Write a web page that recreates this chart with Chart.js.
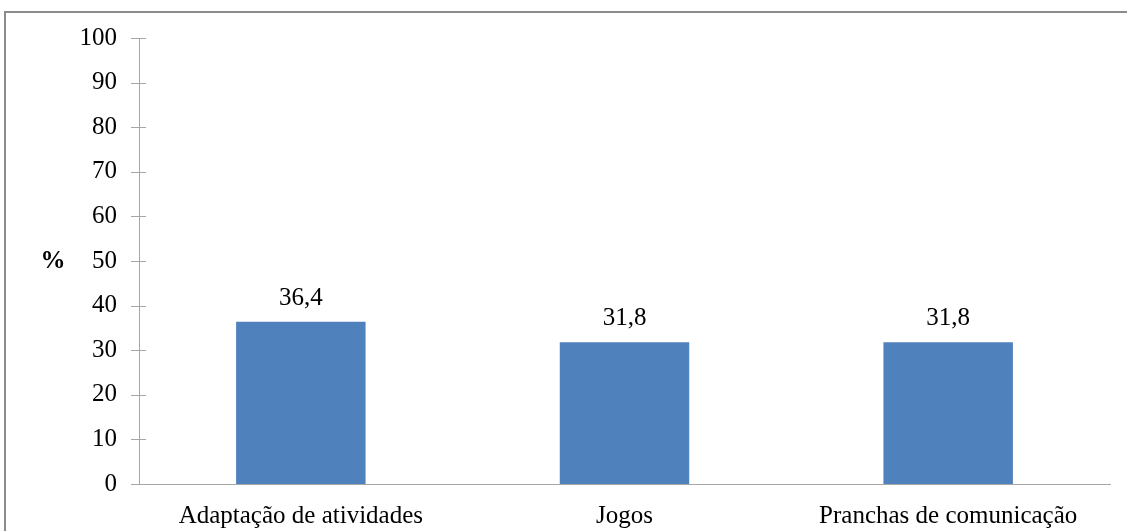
<!DOCTYPE html>
<html>
<head>
<meta charset="utf-8">
<script src="https://cdn.jsdelivr.net/npm/chart.js@4.4.0/dist/chart.umd.min.js"></script>
<style>
  body { margin: 0; background: #fff; overflow: hidden; }
  #frame { position: absolute; left: 4px; top: 11px; width: 1200px; height: 600px; border: 2px solid #8c8c8c; }
  #wrap { position: absolute; left: 0; top: 0; width: 1127px; height: 531px; }
</style>
</head>
<body>
<div id="frame"></div>
<div id="wrap"><canvas id="chart"></canvas></div>
<script>
// chart data
const categories = ['Adaptação de atividades', 'Jogos', 'Pranchas de comunicação'];
const percentValues = [36.4, 31.8, 31.8];
const yTicks = [0, 10, 20, 30, 40, 50, 60, 70, 80, 90, 100];

const axisColor = '#a6a6a6';
const fontFamily = '"Liberation Serif", "Times New Roman", serif';
const fontSize = 25;

// tick marks crossing the y axis, value labels, and the % label
const extras = {
    id: 'extras',
    afterDraw(chart) {
        const ctx = chart.ctx;
        const yScale = chart.scales.y;
        const area = chart.chartArea;
        ctx.save();
        ctx.strokeStyle = axisColor;
        ctx.lineWidth = 1;
        yTicks.forEach(v => {
            const y = Math.round(yScale.getPixelForValue(v)) + 0.5;
            ctx.beginPath();
            ctx.moveTo(area.left - 8, y);
            ctx.lineTo(area.left + 7, y);
            ctx.stroke();
        });

        ctx.fillStyle = '#000';
        ctx.font = fontSize + 'px ' + fontFamily;
        ctx.textAlign = 'center';
        ctx.textBaseline = 'alphabetic';
        chart.getDatasetMeta(0).data.forEach((bar, i) => {
            ctx.fillText(percentValues[i].toFixed(1).replace('.', ','), bar.x, bar.y - 17);
        });

        ctx.font = 'bold ' + fontSize + 'px ' + fontFamily;
        ctx.textBaseline = 'middle';
        ctx.fillText('%', 53, yScale.getPixelForValue(50) + 1);
        ctx.restore();
    }
};

new Chart(document.getElementById('chart'), {
    type: 'bar',
    data: {
        labels: categories,
        datasets: [{
            data: percentValues,
            backgroundColor: '#4f81bd',
            borderWidth: 0,
            categoryPercentage: 0.4,
            barPercentage: 1
        }]
    },
    options: {
        responsive: true,
        maintainAspectRatio: false,
        animation: false,
        layout: { padding: { top: 38, right: 17, left: 0, bottom: 0 } },
        plugins: {
            legend: { display: false },
            tooltip: { enabled: false }
        },
        scales: {
            x: {
                grid: { display: false },
                border: { color: axisColor, width: 1 },
                ticks: { color: '#000', font: { family: fontFamily, size: fontSize }, padding: 9, maxRotation: 0 },
                afterFit(scale) { scale.height = 47; }
            },
            y: {
                min: 0,
                max: 100,
                afterBuildTicks(scale) { scale.ticks = yTicks.map(v => ({ value: v })); },
                grid: { display: false },
                border: { color: axisColor, width: 1 },
                ticks: { color: '#000', font: { family: fontFamily, size: fontSize }, padding: 14 },
                afterFit(scale) { scale.width = 139; }
            }
        }
    },
    plugins: [extras]
});
</script>
</body>
</html>
